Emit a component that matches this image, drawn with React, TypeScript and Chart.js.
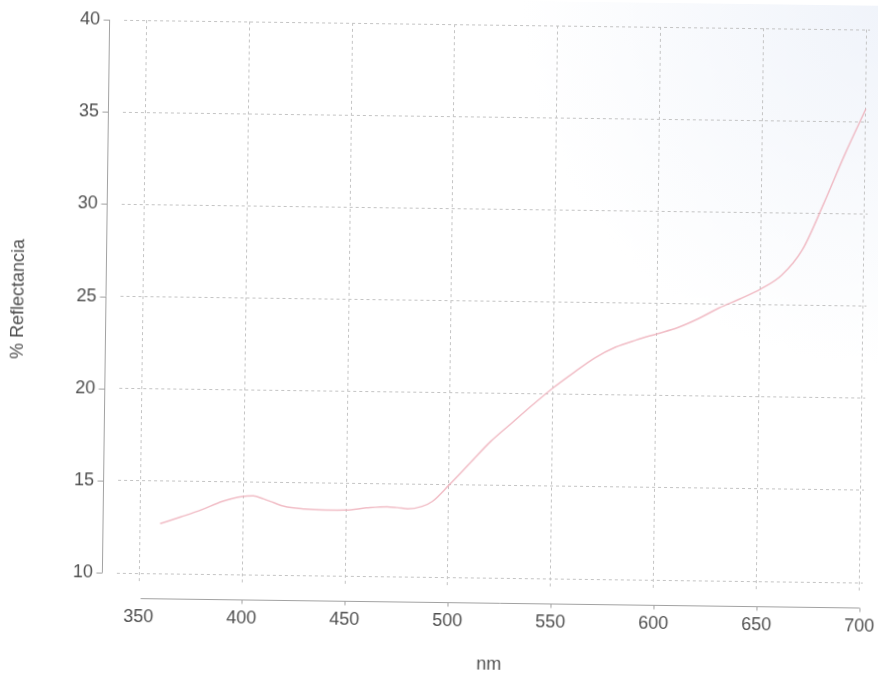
import { useEffect, useRef } from "react";
import { Chart, registerables } from "chart.js";

Chart.register(...registerables);

// Reflectance spectrum samples: wavelength (nm) and % reflectance
const wavelengths = [
  360, 370, 380, 390, 400, 405, 410, 415, 420, 430, 440, 450, 460, 470, 475, 480, 487, 492, 500, 510,
  520, 530, 540, 550, 560, 570, 580, 590, 600, 610, 620, 630, 640, 650, 660, 670, 680, 690, 700,
];
const reflectance = [
  12.7, 13.08, 13.48, 13.95, 14.24, 14.27, 14.12, 13.92, 13.73, 13.6, 13.56, 13.57, 13.7, 13.78, 13.74,
  13.68, 13.82, 14.1, 15.0, 16.2, 17.4, 18.4, 19.4, 20.35, 21.2, 22.0, 22.6, 23.0, 23.35, 23.7, 24.2,
  24.8, 25.3, 25.85, 26.6, 28.0, 30.5, 33.2, 35.7,
];
const xTickValues = [350, 400, 450, 500, 550, 600, 650, 700];
const yTickValues = [10, 15, 20, 25, 30, 35, 40];

const FONT = "'Liberation Sans', Arial, sans-serif";
const TEXT = "#505050";
const GRID = "#c4c4c4";
const AXIS = "#a2a2a2";

// Paper background plus the solid axis lines with their small tick marks
const plotFrame = {
  id: "plotFrame",
  beforeDraw(chart: any) {
    const { ctx, width, height } = chart;
    ctx.save();
    ctx.fillStyle = "#ffffff";
    ctx.fillRect(0, 0, width, height);
    const g = ctx.createRadialGradient(width, 0, 0, width, 0, 360);
    g.addColorStop(0, "rgba(230,236,247,0.6)");
    g.addColorStop(1, "rgba(230,236,247,0)");
    ctx.fillStyle = g;
    ctx.fillRect(0, 0, width, height);
    ctx.restore();
  },
  afterDraw(chart: any) {
    const { ctx, chartArea } = chart;
    const x = chart.scales.x;
    const y = chart.scales.y;
    ctx.save();
    ctx.strokeStyle = AXIS;
    ctx.lineWidth = 1;
    ctx.beginPath();
    const ax = Math.round(chartArea.left - 15) + 0.5;
    ctx.moveTo(ax, y.getPixelForValue(40));
    ctx.lineTo(ax, y.getPixelForValue(10));
    for (const v of yTickValues) {
      const py = Math.round(y.getPixelForValue(v)) + 0.5;
      ctx.moveTo(ax - 6, py);
      ctx.lineTo(ax, py);
    }
    const ay = Math.round(chartArea.bottom + 17) + 0.5;
    ctx.moveTo(x.getPixelForValue(351), ay);
    ctx.lineTo(x.getPixelForValue(700), ay);
    for (const v of xTickValues) {
      if (v === 350) continue;
      const px = Math.round(x.getPixelForValue(v)) + 0.5;
      ctx.moveTo(px, ay);
      ctx.lineTo(px, ay + 4);
    }
    ctx.stroke();
    ctx.restore();
  },
};

export default function App() {
  const canvasRef = useRef<HTMLCanvasElement>(null);

  useEffect(() => {
    const canvas = canvasRef.current;
    if (!canvas) return;
    const chart = new Chart(canvas, {
      type: "line",
      data: {
        datasets: [
          {
            data: wavelengths.map((w, i) => ({ x: w, y: reflectance[i] })),
            borderColor: "rgba(238,172,184,0.8)",
            borderWidth: 1.5,
            pointRadius: 0,
            fill: false,
            tension: 0.4,
            cubicInterpolationMode: "monotone",
          },
        ],
      },
      options: {
        responsive: false,
        animation: false,
        devicePixelRatio: 1,
        layout: { padding: { left: 0, right: 12, top: 24, bottom: 0 } },
        plugins: { legend: { display: false }, tooltip: { enabled: false } },
        scales: {
          x: {
            type: "linear",
            min: 339.3,
            max: 701.5,
            afterBuildTicks: (s: any) => {
              s.ticks = xTickValues.map((v) => ({ value: v }));
            },
            afterFit: (s: any) => {
              s.height = 88;
              s.paddingLeft = 0;
              s.paddingRight = 0;
            },
            grid: { color: GRID, lineWidth: 1, drawTicks: false },
            border: { display: false, dash: [3, 3] },
            ticks: {
              autoSkip: false,
              maxRotation: 0,
              padding: 25,
              color: TEXT,
              font: { family: FONT, size: 18 },
            },
            title: {
              display: true,
              text: "nm",
              color: TEXT,
              font: { family: FONT, size: 18, lineHeight: 1 },
              padding: { top: 0, bottom: 0 },
            },
          },
          y: {
            type: "linear",
            min: 9.57,
            max: 40,
            afterBuildTicks: (s: any) => {
              s.ticks = yTickValues.map((v) => ({ value: v }));
            },
            afterFit: (s: any) => {
              s.width = 120;
              s.paddingTop = 0;
              s.paddingBottom = 0;
            },
            grid: { color: GRID, lineWidth: 1, drawTicks: false },
            border: { display: false, dash: [3, 3] },
            ticks: {
              padding: 24,
              color: TEXT,
              font: { family: FONT, size: 18 },
            },
            title: {
              display: true,
              text: "% Reflectancia",
              color: TEXT,
              font: { family: FONT, size: 18 },
              padding: { top: 7, bottom: 0 },
            },
          },
        },
      },
      plugins: [plotFrame],
    });
    return () => chart.destroy();
  }, []);

  return (
    <div
      style={{
        position: "absolute",
        left: 0,
        top: 0,
        width: 878,
        height: 673,
        overflow: "hidden",
        background: "#ffffff",
      }}
    >
      <canvas
        ref={canvasRef}
        width={878}
        height={673}
        style={{ display: "block", width: 878, height: 673, transform: "rotate(0.75deg)" }}
      />
    </div>
  );
}
